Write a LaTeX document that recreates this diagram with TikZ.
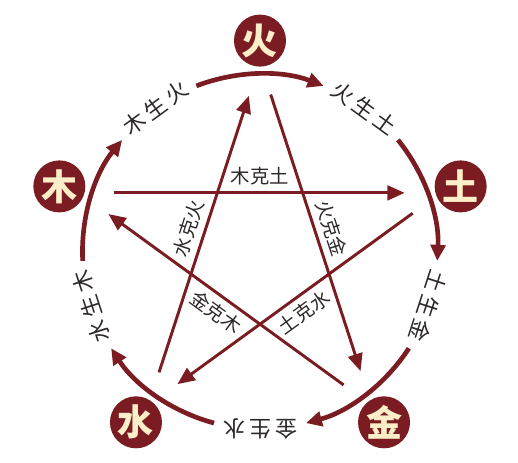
\documentclass[tikz,border=0pt]{standalone}
\usepackage{fontspec}
\newfontfamily\cjk{Noto Sans CJK SC}
\usetikzlibrary{arrows.meta}
\usetikzlibrary{positioning}

\definecolor{wxred}{RGB}{122,28,34}
\definecolor{wxcream}{RGB}{252,238,200}
\definecolor{wxink}{RGB}{45,40,40}

\newcommand{\sheng}[3]{#1\hspace{3pt}#2\hspace{3pt}#3}

\tikzset{
  elem/.style={circle, fill=wxred, minimum size=39pt, inner sep=0pt, text=wxcream,
    font=\cjk\bfseries\fontsize{27}{27}\selectfont},
  ring/.style={draw=wxred, line width=3.5pt, -{Triangle[length=12pt,width=11pt]}},
  ke/.style={draw=wxred, line width=2.2pt, -{Triangle[length=13pt,width=11pt]},
    shorten <=26pt, shorten >=27pt},
  shenglabel/.style={text=wxink, inner sep=0pt, font=\cjk\fontsize{16.5}{16.5}\selectfont},
  kelabel/.style={text=wxink, inner sep=0pt, font=\cjk\fontsize{14.5}{14.5}\selectfont},
}

\begin{document}
\begin{tikzpicture}[x=0.75pt, y=0.75pt]
      \useasboundingbox (-260, -210.4) rectangle (258, 251.6);

      % the five elements
      \node (huo) at (90:211) [elem] {火};
      \node (tu) at (18:211) [elem] {土};
      \node (jin) at (-54:211) [elem] {金};
      \node (shui) at (-126:211) [elem] {水};
      \node (mu) at (162:211) [elem] {木};

      % sheng cycle
      \foreach \a in {126, 54, -18, -90, -162}
        \draw[ring] ({\a-15}:177.5) arc[start angle={\a-15}, end angle={\a-57}, radius=177.5];
      \node (mu-huo) at (126:177.5) [shenglabel, rotate=36] {\sheng{木}{生}{火}};
      \node (huo-tu) at (54:177.5) [shenglabel, rotate=-36] {\sheng{火}{生}{土}};
      \node (tu-jin) at (-18:177.5) [shenglabel, rotate=-108] {\sheng{土}{生}{金}};
      \node (jin-shui) at (-90:177.5) [shenglabel, rotate=180] {\sheng{金}{生}{水}};
      \node (shui-mu) at (198:177.5) [shenglabel, rotate=108] {\sheng{水}{生}{木}};

      % ke star
      \coordinate (s-huo) at (90:190);
      \coordinate (s-tu) at (18:190);
      \coordinate (s-jin) at (-54:190);
      \coordinate (s-shui) at (-126:190);
      \coordinate (s-mu) at (162:190);
      \draw[ke] (s-mu) -- (s-tu);
      \draw[ke] (s-tu) -- (s-shui);
      \draw[ke] (s-shui) -- (s-huo);
      \draw[ke] (s-huo) -- (s-jin);
      \draw[ke] (s-jin) -- (s-mu);

      \node (mu-tu) at (90:75) [kelabel] {木克土};
      \node (shui-huo) at (162:75) [kelabel, rotate=72] {水克火};
      \node (huo-jin) at (18:75) [kelabel, rotate=-72] {火克金};
      \node (tu-shui) at (-54:75) [kelabel, rotate=36] {土克水};
      \node (jin-mu) at (-126:75) [kelabel, rotate=-36] {金克木};
    \end{tikzpicture}
\end{document}
